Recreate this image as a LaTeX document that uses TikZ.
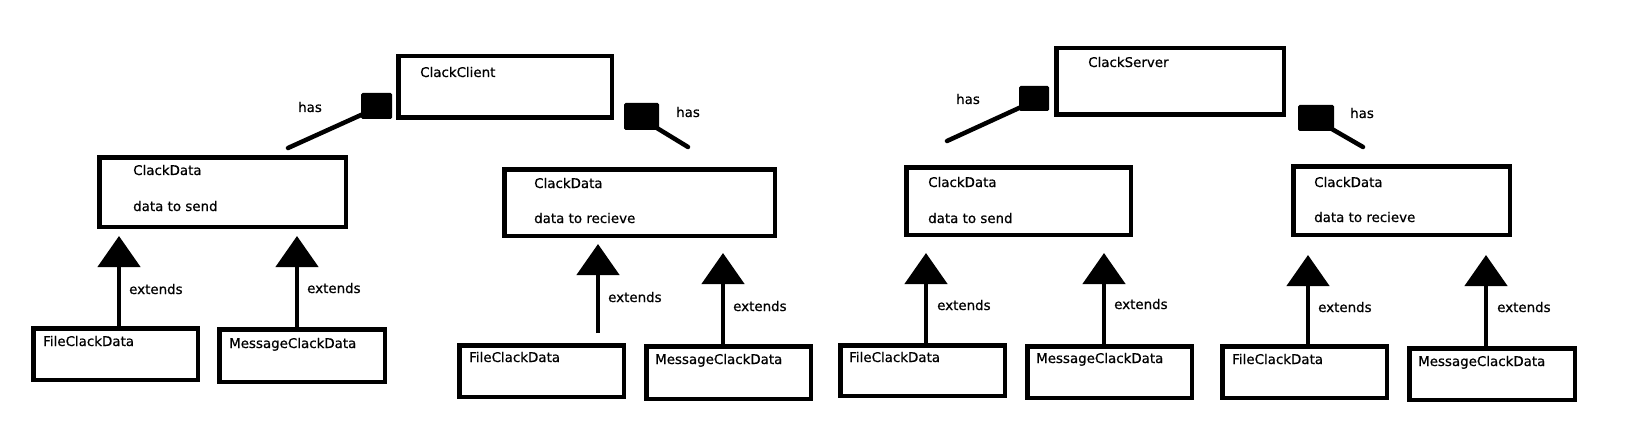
\documentclass[tikz,border=0pt]{standalone}
\usepackage{fontspec}
\setmainfont[FakeBold=0.6]{DejaVu Sans}
\usetikzlibrary{arrows.meta}
\tikzset{
  box/.style={draw=black, line width=4.5pt, fill=white, inner sep=0pt, rectangle},
  sqr/.style={fill=black, inner sep=0pt, rectangle, rounded corners=1.5pt},
  hasline/.style={draw=black, line width=4.5pt, line cap=round},
  ext/.style={draw=black, line width=4.7pt, -{Triangle[width=42pt,length=31pt]}},
  lbl/.style={anchor=base west, inner sep=0pt, font=\fontsize{13.4}{16}\selectfont},
}
\begin{document}
\begin{tikzpicture}[x=1pt,y=-1pt]
\useasboundingbox[fill=white] (0,0) rectangle (1630,433);

% ---------- boxes ----------
\node[box, minimum width=213.5pt, minimum height=61.5pt] (cc) at (505,87) {};
\node[box, minimum width=246.5pt, minimum height=69.5pt] (cd1) at (222.5,192) {};
\node[box, minimum width=164.5pt, minimum height=51.5pt] (fcd1) at (115.5,354) {};
\node[box, minimum width=165.5pt, minimum height=52.5pt] (mcd1) at (302,355.5) {};
\node[box, minimum width=270.5pt, minimum height=66.5pt] (cd2) at (639.5,202.5) {};
\node[box, minimum width=164.5pt, minimum height=51.5pt] (fcd2) at (541.5,371) {};
\node[box, minimum width=164.5pt, minimum height=52.5pt] (mcd2) at (728.5,372.5) {};
\node[box, minimum width=227.5pt, minimum height=66.5pt] (cs) at (1170,81.5) {};
\node[box, minimum width=224.5pt, minimum height=67.5pt] (cd3) at (1018.5,201) {};
\node[box, minimum width=164.5pt, minimum height=50.5pt] (fcd3) at (922.5,370.5) {};
\node[box, minimum width=164.5pt, minimum height=51.5pt] (mcd3) at (1109.5,372) {};
\node[box, minimum width=216.5pt, minimum height=68.5pt] (cd4) at (1401.5,200.5) {};
\node[box, minimum width=164.5pt, minimum height=51.5pt] (fcd4) at (1304.5,372) {};
\node[box, minimum width=165.5pt, minimum height=51.5pt] (mcd4) at (1492,374) {};

% ---------- texts ----------
\node[lbl] (tcc) at (420,77) {ClackClient};
\node[lbl] (tcs) at (1088,67) {ClackServer};
\node[lbl] (tcd1a) at (133,175) {ClackData};
\node[lbl] (tcd1b) at (133,211) {data to send};
\node[lbl] (tcd2a) at (534,188) {ClackData};
\node[lbl] (tcd2b) at (534,223) {data to recieve};
\node[lbl] (tcd3a) at (928,187) {ClackData};
\node[lbl] (tcd3b) at (928,223) {data to send};
\node[lbl] (tcd4a) at (1314,187) {ClackData};
\node[lbl] (tcd4b) at (1314,222) {data to recieve};
\node[lbl] (tf1) at (43,346) {FileClackData};
\node[lbl] (tm1) at (229,348) {MessageClackData};
\node[lbl] (tf2) at (469,362) {FileClackData};
\node[lbl] (tm2) at (655,364) {MessageClackData};
\node[lbl] (tf3) at (849,362) {FileClackData};
\node[lbl] (tm3) at (1036,363) {MessageClackData};
\node[lbl] (tf4) at (1232,364) {FileClackData};
\node[lbl] (tm4) at (1418,366) {MessageClackData};
\node[lbl] (e1) at (129,294) {extends};
\node[lbl] (e2) at (307,293) {extends};
\node[lbl] (e3) at (608,302) {extends};
\node[lbl] (e4) at (733,311) {extends};
\node[lbl] (e5) at (937,310) {extends};
\node[lbl] (e6) at (1114,309) {extends};
\node[lbl] (e7) at (1318,312) {extends};
\node[lbl] (e8) at (1497,312) {extends};
\node[lbl] (h1t) at (298,112) {has};
\node[lbl] (h2t) at (676,117) {has};
\node[lbl] (h3t) at (956,104) {has};
\node[lbl] (h4t) at (1350,118) {has};

% ---------- has (composition) ----------
\node[sqr, minimum width=31pt, minimum height=26pt] (sq1) at (376.5,106) {};
\node[sqr, minimum width=35pt, minimum height=27pt] (sq2) at (641.5,116.5) {};
\node[sqr, minimum width=30pt, minimum height=25pt] (sq3) at (1034,98.5) {};
\node[sqr, minimum width=36pt, minimum height=26pt] (sq4) at (1316,118) {};
\coordinate (h1) at (288,148);
\coordinate (h2) at (688,147);
\coordinate (h3) at (947,141);
\coordinate (h4) at (1363,147);
\draw[hasline] ([xshift=2pt,yshift=5pt]sq1.south west) -- (h1);
\draw[hasline] ([xshift=-2pt,yshift=2pt]sq2.south east) -- (h2);
\draw[hasline] ([xshift=2pt,yshift=4pt]sq3.south west) -- (h3);
\draw[hasline] ([xshift=-2pt,yshift=2pt]sq4.south east) -- (h4);

% ---------- extends ----------
\coordinate (x1) at (119,0);
\coordinate (x2) at (297,0);
\coordinate (x3) at (598,0);
\coordinate (x4) at (723,0);
\coordinate (x5) at (926,0);
\coordinate (x6) at (1104,0);
\coordinate (x7) at (1308,0);
\coordinate (x8) at (1486,0);
\draw[ext, shorten >=7pt] (fcd1.north -| x1) -- (cd1.south -| x1);
\draw[ext, shorten >=7pt] (mcd1.north -| x2) -- (cd1.south -| x2);
\draw[ext, shorten >=6pt, shorten <=10pt] (fcd2.north -| x3) -- (cd2.south -| x3);
\draw[ext, shorten >=15pt] (mcd2.north -| x4) -- (cd2.south -| x4);
\draw[ext, shorten >=16pt] (fcd3.north -| x5) -- (cd3.south -| x5);
\draw[ext, shorten >=16pt] (mcd3.north -| x6) -- (cd3.south -| x6);
\draw[ext, shorten >=18pt] (fcd4.north -| x7) -- (cd4.south -| x7);
\draw[ext, shorten >=18pt] (mcd4.north -| x8) -- (cd4.south -| x8);
\end{tikzpicture}
\end{document}
